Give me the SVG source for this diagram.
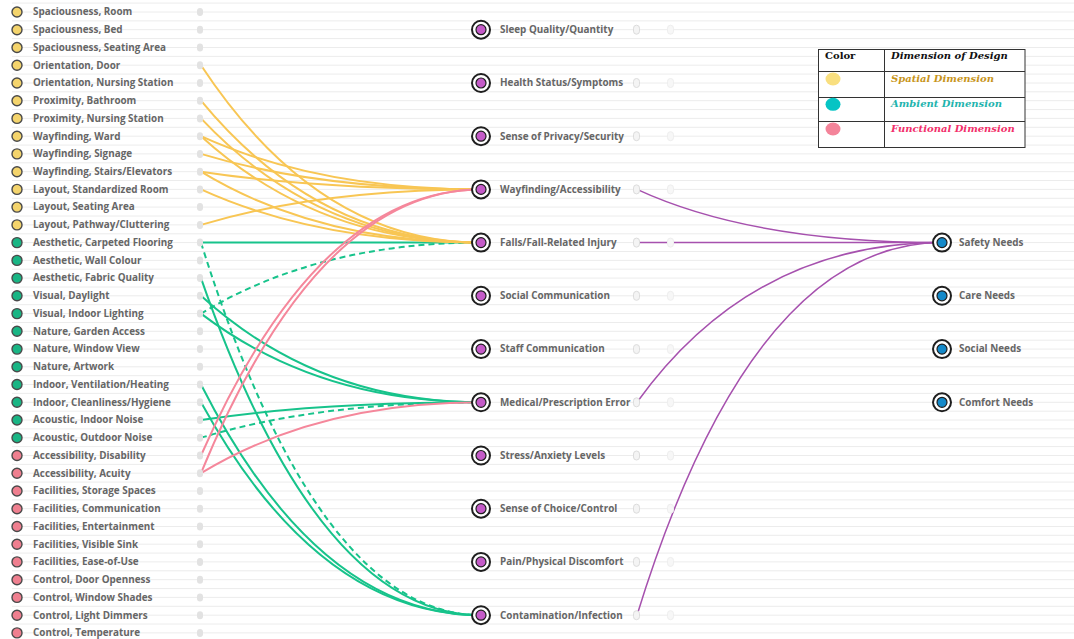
<svg xmlns="http://www.w3.org/2000/svg" width="1074" height="639" viewBox="0 0 1074 639">
<style>
  .grid{stroke:#ececec;stroke-width:1;fill:none}
  .lbl{font-family:"Open Sans","Noto Sans","DejaVu Sans",sans-serif;font-weight:700;font-size:9.9px;fill:#666}
  .src circle{stroke:#4a4a4a;stroke-width:1.4}
  .sp circle{fill:#f4d46c}
  .am circle{fill:#19b584}
  .fu circle{fill:#ef7f8f}
  .port{fill:#e2e2e2}
  .mport{fill:#f4f4f4;stroke:#dcdcdc;stroke-width:1}
  .mport2{fill:#f7f7f7;stroke:#eeeeee;stroke-width:1}
  .ring{fill:#fff;stroke:#1e1e1e;stroke-width:2}
  .mid .core{fill:#c45bc8;stroke:#1e1e1e;stroke-width:1.2}
  .need .core{fill:#1489c9;stroke:#1e1e1e;stroke-width:1.2}
  .c{fill:none;stroke-width:2}
  .cy{stroke:#f8c654}
  .cg{stroke:#17c38b}
  .cp{stroke:#f5879b}
  .cv{stroke:#a651ae;stroke-width:1.5}
  .dash{stroke-dasharray:6 4}
  .lg{font-family:"DejaVu Serif","Liberation Serif",serif;font-weight:700;font-size:10px}
</style>
<rect x="0" y="0" width="1074" height="639" fill="#ffffff"/>
<path class="grid" d="M12 3.1H1074M12 12H1074M12 20.9H1074M12 29.7H1074M12 38.6H1074M12 47.5H1074M12 56.4H1074M12 65.2H1074M12 74.1H1074M12 83H1074M12 91.8H1074M12 100.7H1074M12 109.6H1074M12 118.4H1074M12 127.3H1074M12 136.2H1074M12 145.1H1074M12 153.9H1074M12 162.8H1074M12 171.7H1074M12 180.5H1074M12 189.4H1074M12 198.3H1074M12 207.1H1074M12 216H1074M12 224.9H1074M12 233.8H1074M12 242.6H1074M12 251.5H1074M12 260.4H1074M12 269.2H1074M12 278.1H1074M12 287H1074M12 295.8H1074M12 304.7H1074M12 313.6H1074M12 322.5H1074M12 331.3H1074M12 340.2H1074M12 349.1H1074M12 357.9H1074M12 366.8H1074M12 375.7H1074M12 384.5H1074M12 393.4H1074M12 402.3H1074M12 411.2H1074M12 420H1074M12 428.9H1074M12 437.8H1074M12 446.6H1074M12 455.5H1074M12 464.4H1074M12 473.2H1074M12 482.1H1074M12 491H1074M12 499.9H1074M12 508.7H1074M12 517.6H1074M12 526.5H1074M12 535.3H1074M12 544.2H1074M12 553.1H1074M12 561.9H1074M12 570.8H1074M12 579.7H1074M12 588.6H1074M12 597.4H1074M12 606.3H1074M12 615.2H1074M12 624H1074M12 632.9H1074"/>

<g id="connectors">
  <g id="ambient-links">
    <path class="c cg" d="M201 242.6H481"/>
    <path class="c cg dash" d="M201 242.6Q318 615.2 481 615.2"/>
    <path class="c cg" d="M201 278.1Q318 615.2 481 615.2"/>
    <path class="c cg" d="M201 295.8Q318 402.3 481 402.3"/>
    <path class="c cg" d="M201 313.6Q318 402.3 481 402.3"/>
    <path class="c cg dash" d="M201 313.6Q318 242.6 481 242.6"/>
    <path class="c cg" d="M201 384.5Q318 615.2 481 615.2"/>
    <path class="c cg" d="M201 402.3Q318 615.2 481 615.2"/>
    <path class="c cg" d="M201 420Q318 402.3 481 402.3"/>
    <path class="c cg dash" d="M201 437.8Q318 402.3 481 402.3"/>
  </g>
  <g id="spatial-links">
    <path class="c cy" d="M201 65.2Q318 242.6 481 242.6"/>
    <path class="c cy" d="M201 100.7Q318 242.6 481 242.6"/>
    <path class="c cy" d="M201 118.4Q318 242.6 481 242.6"/>
    <path class="c cy" d="M201 136.2Q318 189.4 481 189.4"/>
    <path class="c cy" d="M201 136.2Q318 242.6 481 242.6"/>
    <path class="c cy" d="M201 153.9Q318 189.4 481 189.4"/>
    <path class="c cy" d="M201 171.7Q318 189.4 481 189.4"/>
    <path class="c cy" d="M201 171.7Q318 242.6 481 242.6"/>
    <path class="c cy" d="M201 189.4Q318 242.6 481 242.6"/>
    <path class="c cy" d="M201 224.9Q318 189.4 481 189.4"/>
  </g>
  <g id="functional-links">
    <path class="c cp" d="M201 455.5Q318 189.4 481 189.4"/>
    <path class="c cp" d="M201 473.2Q318 189.4 481 189.4"/>
    <path class="c cp" d="M201 473.2Q318 402.3 481 402.3"/>
  </g>
  <g id="needs-links">
    <path class="c cv" d="M637 189.4Q752 242.6 942 242.6"/>
    <path class="c cv" d="M637 242.6H942"/>
    <path class="c cv" d="M637 402.3Q752 242.6 942 242.6"/>
    <path class="c cv" d="M637 615.2Q752 242.6 942 242.6"/>
  </g>
</g>

<g id="design-features">
  <g id="f-spaciousness-room" class="src sp"><circle cx="17" cy="12" r="5"/><text class="lbl" x="33" y="15.3">Spaciousness, Room</text><rect class="port" x="197" y="8" width="6" height="8" rx="3"/></g>
  <g id="f-spaciousness-bed" class="src sp"><circle cx="17" cy="29.7" r="5"/><text class="lbl" x="33" y="33">Spaciousness, Bed</text><rect class="port" x="197" y="25.7" width="6" height="8" rx="3"/></g>
  <g id="f-spaciousness-seating" class="src sp"><circle cx="17" cy="47.5" r="5"/><text class="lbl" x="33" y="50.8">Spaciousness, Seating Area</text><rect class="port" x="197" y="43.5" width="6" height="8" rx="3"/></g>
  <g id="f-orientation-door" class="src sp"><circle cx="17" cy="65.2" r="5"/><text class="lbl" x="33" y="68.5">Orientation, Door</text><rect class="port" x="197" y="61.2" width="6" height="8" rx="3"/></g>
  <g id="f-orientation-nursing" class="src sp"><circle cx="17" cy="83" r="5"/><text class="lbl" x="33" y="86.3">Orientation, Nursing Station</text><rect class="port" x="197" y="79" width="6" height="8" rx="3"/></g>
  <g id="f-proximity-bathroom" class="src sp"><circle cx="17" cy="100.7" r="5"/><text class="lbl" x="33" y="104">Proximity, Bathroom</text><rect class="port" x="197" y="96.7" width="6" height="8" rx="3"/></g>
  <g id="f-proximity-nursing" class="src sp"><circle cx="17" cy="118.4" r="5"/><text class="lbl" x="33" y="121.7">Proximity, Nursing Station</text><rect class="port" x="197" y="114.4" width="6" height="8" rx="3"/></g>
  <g id="f-wayfinding-ward" class="src sp"><circle cx="17" cy="136.2" r="5"/><text class="lbl" x="33" y="139.5">Wayfinding, Ward</text><rect class="port" x="197" y="132.2" width="6" height="8" rx="3"/></g>
  <g id="f-wayfinding-signage" class="src sp"><circle cx="17" cy="153.9" r="5"/><text class="lbl" x="33" y="157.2">Wayfinding, Signage</text><rect class="port" x="197" y="149.9" width="6" height="8" rx="3"/></g>
  <g id="f-wayfinding-stairs" class="src sp"><circle cx="17" cy="171.7" r="5"/><text class="lbl" x="33" y="175">Wayfinding, Stairs/Elevators</text><rect class="port" x="197" y="167.7" width="6" height="8" rx="3"/></g>
  <g id="f-layout-room" class="src sp"><circle cx="17" cy="189.4" r="5"/><text class="lbl" x="33" y="192.7">Layout, Standardized Room</text><rect class="port" x="197" y="185.4" width="6" height="8" rx="3"/></g>
  <g id="f-layout-seating" class="src sp"><circle cx="17" cy="207.1" r="5"/><text class="lbl" x="33" y="210.4">Layout, Seating Area</text><rect class="port" x="197" y="203.1" width="6" height="8" rx="3"/></g>
  <g id="f-layout-pathway" class="src sp"><circle cx="17" cy="224.9" r="5"/><text class="lbl" x="33" y="228.2">Layout, Pathway/Cluttering</text><rect class="port" x="197" y="220.9" width="6" height="8" rx="3"/></g>
  <g id="f-aesthetic-carpet" class="src am"><circle cx="17" cy="242.6" r="5"/><text class="lbl" x="33" y="245.9">Aesthetic, Carpeted Flooring</text><rect class="port" x="197" y="238.6" width="6" height="8" rx="3"/></g>
  <g id="f-aesthetic-wall" class="src am"><circle cx="17" cy="260.4" r="5"/><text class="lbl" x="33" y="263.7">Aesthetic, Wall Colour</text><rect class="port" x="197" y="256.4" width="6" height="8" rx="3"/></g>
  <g id="f-aesthetic-fabric" class="src am"><circle cx="17" cy="278.1" r="5"/><text class="lbl" x="33" y="281.4">Aesthetic, Fabric Quality</text><rect class="port" x="197" y="274.1" width="6" height="8" rx="3"/></g>
  <g id="f-visual-daylight" class="src am"><circle cx="17" cy="295.8" r="5"/><text class="lbl" x="33" y="299.1">Visual, Daylight</text><rect class="port" x="197" y="291.8" width="6" height="8" rx="3"/></g>
  <g id="f-visual-lighting" class="src am"><circle cx="17" cy="313.6" r="5"/><text class="lbl" x="33" y="316.9">Visual, Indoor Lighting</text><rect class="port" x="197" y="309.6" width="6" height="8" rx="3"/></g>
  <g id="f-nature-garden" class="src am"><circle cx="17" cy="331.3" r="5"/><text class="lbl" x="33" y="334.6">Nature, Garden Access</text><rect class="port" x="197" y="327.3" width="6" height="8" rx="3"/></g>
  <g id="f-nature-window" class="src am"><circle cx="17" cy="349.1" r="5"/><text class="lbl" x="33" y="352.4">Nature, Window View</text><rect class="port" x="197" y="345.1" width="6" height="8" rx="3"/></g>
  <g id="f-nature-artwork" class="src am"><circle cx="17" cy="366.8" r="5"/><text class="lbl" x="33" y="370.1">Nature, Artwork</text><rect class="port" x="197" y="362.8" width="6" height="8" rx="3"/></g>
  <g id="f-indoor-ventilation" class="src am"><circle cx="17" cy="384.5" r="5"/><text class="lbl" x="33" y="387.8">Indoor, Ventilation/Heating</text><rect class="port" x="197" y="380.5" width="6" height="8" rx="3"/></g>
  <g id="f-indoor-cleanliness" class="src am"><circle cx="17" cy="402.3" r="5"/><text class="lbl" x="33" y="405.6">Indoor, Cleanliness/Hygiene</text><rect class="port" x="197" y="398.3" width="6" height="8" rx="3"/></g>
  <g id="f-acoustic-indoor" class="src am"><circle cx="17" cy="420" r="5"/><text class="lbl" x="33" y="423.3">Acoustic, Indoor Noise</text><rect class="port" x="197" y="416" width="6" height="8" rx="3"/></g>
  <g id="f-acoustic-outdoor" class="src am"><circle cx="17" cy="437.8" r="5"/><text class="lbl" x="33" y="441.1">Acoustic, Outdoor Noise</text><rect class="port" x="197" y="433.8" width="6" height="8" rx="3"/></g>
  <g id="f-accessibility-disability" class="src fu"><circle cx="17" cy="455.5" r="5"/><text class="lbl" x="33" y="458.8">Accessibility, Disability</text><rect class="port" x="197" y="451.5" width="6" height="8" rx="3"/></g>
  <g id="f-accessibility-acuity" class="src fu"><circle cx="17" cy="473.2" r="5"/><text class="lbl" x="33" y="476.5">Accessibility, Acuity</text><rect class="port" x="197" y="469.2" width="6" height="8" rx="3"/></g>
  <g id="f-facilities-storage" class="src fu"><circle cx="17" cy="491" r="5"/><text class="lbl" x="33" y="494.3">Facilities, Storage Spaces</text><rect class="port" x="197" y="487" width="6" height="8" rx="3"/></g>
  <g id="f-facilities-communication" class="src fu"><circle cx="17" cy="508.7" r="5"/><text class="lbl" x="33" y="512">Facilities, Communication</text><rect class="port" x="197" y="504.7" width="6" height="8" rx="3"/></g>
  <g id="f-facilities-entertainment" class="src fu"><circle cx="17" cy="526.5" r="5"/><text class="lbl" x="33" y="529.8">Facilities, Entertainment</text><rect class="port" x="197" y="522.5" width="6" height="8" rx="3"/></g>
  <g id="f-facilities-sink" class="src fu"><circle cx="17" cy="544.2" r="5"/><text class="lbl" x="33" y="547.5">Facilities, Visible Sink</text><rect class="port" x="197" y="540.2" width="6" height="8" rx="3"/></g>
  <g id="f-facilities-ease" class="src fu"><circle cx="17" cy="561.9" r="5"/><text class="lbl" x="33" y="565.2">Facilities, Ease-of-Use</text><rect class="port" x="197" y="557.9" width="6" height="8" rx="3"/></g>
  <g id="f-control-door" class="src fu"><circle cx="17" cy="579.7" r="5"/><text class="lbl" x="33" y="583">Control, Door Openness</text><rect class="port" x="197" y="575.7" width="6" height="8" rx="3"/></g>
  <g id="f-control-shades" class="src fu"><circle cx="17" cy="597.4" r="5"/><text class="lbl" x="33" y="600.7">Control, Window Shades</text><rect class="port" x="197" y="593.4" width="6" height="8" rx="3"/></g>
  <g id="f-control-dimmers" class="src fu"><circle cx="17" cy="615.2" r="5"/><text class="lbl" x="33" y="618.5">Control, Light Dimmers</text><rect class="port" x="197" y="611.2" width="6" height="8" rx="3"/></g>
  <g id="f-control-temperature" class="src fu"><circle cx="17" cy="632.9" r="5"/><text class="lbl" x="33" y="636.2">Control, Temperature</text><rect class="port" x="197" y="628.9" width="6" height="8" rx="3"/></g>
</g>

<g id="outcomes">
  <g id="o-sleep" class="mid"><circle class="ring" cx="481" cy="29.7" r="9"/><circle class="core" cx="481" cy="29.7" r="5"/><text class="lbl" x="500" y="33">Sleep Quality/Quantity</text><rect class="mport" x="633.5" y="25.2" width="6" height="9" rx="3"/><rect class="mport2" x="667.5" y="25.2" width="6" height="9" rx="3"/></g>
  <g id="o-health" class="mid"><circle class="ring" cx="481" cy="83" r="9"/><circle class="core" cx="481" cy="83" r="5"/><text class="lbl" x="500" y="86.3">Health Status/Symptoms</text><rect class="mport" x="633.5" y="78.5" width="6" height="9" rx="3"/><rect class="mport2" x="667.5" y="78.5" width="6" height="9" rx="3"/></g>
  <g id="o-privacy" class="mid"><circle class="ring" cx="481" cy="136.2" r="9"/><circle class="core" cx="481" cy="136.2" r="5"/><text class="lbl" x="500" y="139.5">Sense of Privacy/Security</text><rect class="mport" x="633.5" y="131.7" width="6" height="9" rx="3"/><rect class="mport2" x="667.5" y="131.7" width="6" height="9" rx="3"/></g>
  <g id="o-wayfinding" class="mid"><circle class="ring" cx="481" cy="189.4" r="9"/><circle class="core" cx="481" cy="189.4" r="5"/><text class="lbl" x="500" y="192.7">Wayfinding/Accessibility</text><rect class="mport" x="633.5" y="184.9" width="6" height="9" rx="3"/><rect class="mport2" x="667.5" y="184.9" width="6" height="9" rx="3"/></g>
  <g id="o-falls" class="mid"><circle class="ring" cx="481" cy="242.6" r="9"/><circle class="core" cx="481" cy="242.6" r="5"/><text class="lbl" x="500" y="245.9">Falls/Fall-Related Injury</text><rect class="mport" x="633.5" y="238.1" width="6" height="9" rx="3"/><rect class="mport2" x="667.5" y="238.1" width="6" height="9" rx="3"/></g>
  <g id="o-social-comm" class="mid"><circle class="ring" cx="481" cy="295.8" r="9"/><circle class="core" cx="481" cy="295.8" r="5"/><text class="lbl" x="500" y="299.1">Social Communication</text><rect class="mport" x="633.5" y="291.3" width="6" height="9" rx="3"/><rect class="mport2" x="667.5" y="291.3" width="6" height="9" rx="3"/></g>
  <g id="o-staff-comm" class="mid"><circle class="ring" cx="481" cy="349.1" r="9"/><circle class="core" cx="481" cy="349.1" r="5"/><text class="lbl" x="500" y="352.4">Staff Communication</text><rect class="mport" x="633.5" y="344.6" width="6" height="9" rx="3"/><rect class="mport2" x="667.5" y="344.6" width="6" height="9" rx="3"/></g>
  <g id="o-medical" class="mid"><circle class="ring" cx="481" cy="402.3" r="9"/><circle class="core" cx="481" cy="402.3" r="5"/><text class="lbl" x="500" y="405.6">Medical/Prescription Error</text><rect class="mport" x="633.5" y="397.8" width="6" height="9" rx="3"/><rect class="mport2" x="667.5" y="397.8" width="6" height="9" rx="3"/></g>
  <g id="o-stress" class="mid"><circle class="ring" cx="481" cy="455.5" r="9"/><circle class="core" cx="481" cy="455.5" r="5"/><text class="lbl" x="500" y="458.8">Stress/Anxiety Levels</text><rect class="mport" x="633.5" y="451" width="6" height="9" rx="3"/><rect class="mport2" x="667.5" y="451" width="6" height="9" rx="3"/></g>
  <g id="o-choice" class="mid"><circle class="ring" cx="481" cy="508.7" r="9"/><circle class="core" cx="481" cy="508.7" r="5"/><text class="lbl" x="500" y="512">Sense of Choice/Control</text><rect class="mport" x="633.5" y="504.2" width="6" height="9" rx="3"/><rect class="mport2" x="667.5" y="504.2" width="6" height="9" rx="3"/></g>
  <g id="o-pain" class="mid"><circle class="ring" cx="481" cy="561.9" r="9"/><circle class="core" cx="481" cy="561.9" r="5"/><text class="lbl" x="500" y="565.2">Pain/Physical Discomfort</text><rect class="mport" x="633.5" y="557.4" width="6" height="9" rx="3"/><rect class="mport2" x="667.5" y="557.4" width="6" height="9" rx="3"/></g>
  <g id="o-contamination" class="mid"><circle class="ring" cx="481" cy="615.2" r="9"/><circle class="core" cx="481" cy="615.2" r="5"/><text class="lbl" x="500" y="618.5">Contamination/Infection</text><rect class="mport" x="633.5" y="610.7" width="6" height="9" rx="3"/><rect class="mport2" x="667.5" y="610.7" width="6" height="9" rx="3"/></g>
</g>

<g id="needs">
  <g id="n-safety" class="need"><circle class="ring" cx="942" cy="242.6" r="9"/><circle class="core" cx="942" cy="242.6" r="5"/><text class="lbl" x="959" y="245.9">Safety Needs</text></g>
  <g id="n-care" class="need"><circle class="ring" cx="942" cy="295.8" r="9"/><circle class="core" cx="942" cy="295.8" r="5"/><text class="lbl" x="959" y="299.1">Care Needs</text></g>
  <g id="n-social" class="need"><circle class="ring" cx="942" cy="349.1" r="9"/><circle class="core" cx="942" cy="349.1" r="5"/><text class="lbl" x="959" y="352.4">Social Needs</text></g>
  <g id="n-comfort" class="need"><circle class="ring" cx="942" cy="402.3" r="9"/><circle class="core" cx="942" cy="402.3" r="5"/><text class="lbl" x="959" y="405.6">Comfort Needs</text></g>
</g>

<g id="legend">
  <rect x="818.5" y="49.5" width="206.5" height="98" fill="#ffffff" stroke="#333" stroke-width="1"/>
  <path d="M884.5 49.5V147.5M818.5 71.5H1025M818.5 97.5H1025M818.5 121.5H1025" stroke="#333" stroke-width="1" fill="none"/>
  <text class="lg" x="825" y="59" fill="#111">Color</text>
  <text class="lg" x="891" y="59" fill="#111" font-style="italic">Dimension of Design</text>
  <ellipse cx="833" cy="79" rx="7.5" ry="6.5" fill="#f9df7f"/>
  <ellipse cx="833" cy="104.3" rx="7.5" ry="6.5" fill="#06c4c4"/>
  <ellipse cx="833" cy="129" rx="7.5" ry="6.5" fill="#f4849a"/>
  <text class="lg" x="891" y="81.5" fill="#c8951c" font-style="italic">Spatial Dimension</text>
  <text class="lg" x="891" y="106.5" fill="#1fb4ae" font-style="italic">Ambient Dimension</text>
  <text class="lg" x="891" y="131.5" fill="#f2306b" font-style="italic">Functional Dimension</text>
</g>
</svg>
